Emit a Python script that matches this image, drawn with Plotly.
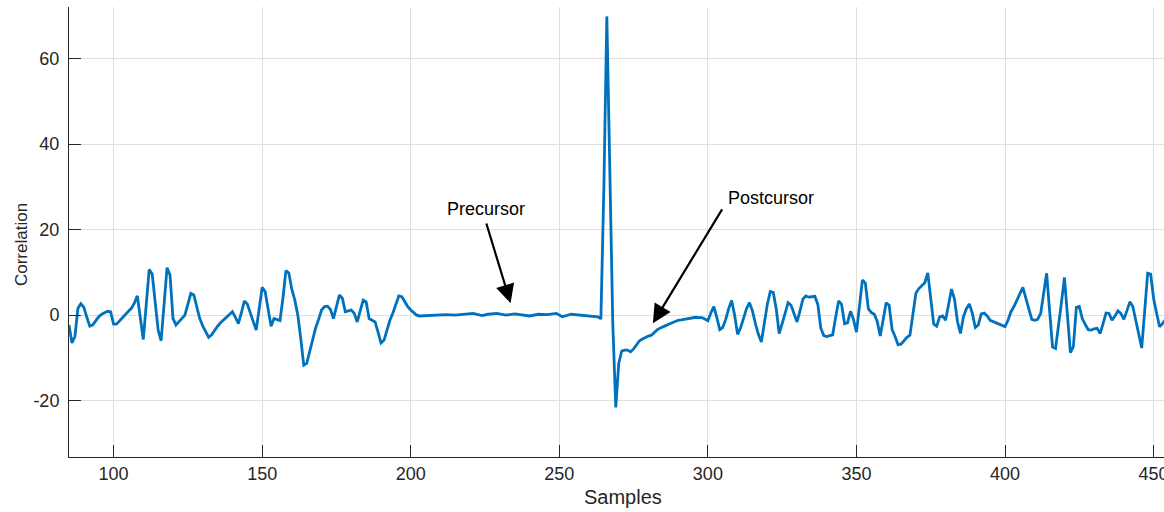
import plotly.graph_objects as go

# Cross-correlation output around the main peak (sample index vs. correlation)
samples_a = list(range(85, 204))
corr_a = [
    -2.3, -6.5, -5.0, 1.6, 2.7, 1.8, -0.5, -2.6, -2.3, -1.2,      # 85-94
    -0.4, 0.2, 0.6, 0.9, 0.8, -2.1, -2.1, -1.3, -0.5, 0.2,        # 95-104
    0.9, 1.6, 2.8, 4.5, -0.5, -5.7, 2.5, 10.7, 9.6, 3.0,          # 105-114
    -3.5, -6.0, 2.5, 11.1, 9.4, -0.8, -2.3, -1.5, -0.8, 0.0,      # 115-124
    2.5, 5.1, 4.7, 2.0, -0.8, -2.5, -4.0, -5.2, -4.6, -3.5,       # 125-134
    -2.6, -1.8, -1.2, -0.5, 0.2, 0.8, -0.5, -2.0, 0.5, 3.3,       # 135-144
    2.6, 0.5, -1.5, -3.5, 1.5, 6.5, 5.5, 1.5, -2.6, -0.8,         # 145-154
    -1.0, -1.3, 4.0, 10.4, 9.8, 6.0, 3.5, 0.0, -5.5, -11.7,       # 155-164
    -11.3, -8.5, -5.5, -3.0, -1.0, 1.2, 2.0, 2.1, 1.3, -0.8,      # 165-174
    2.0, 4.7, 3.9, 0.8, 1.0, 1.2, 0.4, -1.6, 1.0, 3.5,            # 175-184
    3.1, -0.8, -1.2, -1.6, -4.0, -6.5, -5.9, -3.5, -1.2, 0.5,     # 185-194
    2.3, 4.5, 4.3, 3.0, 2.0, 1.2, 0.5, 0.0, -0.2,                 # 195-203
]

# Quiet stretch before the main lobe
samples_b = [206, 209, 212, 215, 218, 221, 224, 226, 229, 232, 235, 238,
             240, 243, 246, 249, 251, 254, 257, 261, 263]
corr_b = [-0.1, 0.0, 0.1, 0.0, 0.2, 0.4, -0.1, 0.2, 0.4, 0.0, 0.3, 0.0,
          -0.2, 0.2, 0.1, 0.4, -0.4, 0.2, 0.0, -0.2, -0.4]

samples_c = list(range(264, 455))
corr_c = [
    -0.9, 30.0, 69.9, 34.0, -2.0, -21.6, -11.3, -8.4, -8.2, -8.2,  # 264-273
    -8.6, -7.9, -6.9, -6.0, -5.6, -5.2, -4.9, -4.7, -4.0, -3.4,    # 274-283
    -3.0, -2.6, -2.4, -2.1, -1.8, -1.5, -1.2, -1.1, -1.0, -0.8,    # 284-293
    -0.7, -0.6, -0.5, -0.6, -0.6, -0.9, -1.3, 0.5, 2.0, -0.5,      # 294-303
    -3.4, -2.9, -1.0, 1.5, 3.4, 0.0, -4.5, -3.0, -0.5, 1.5,        # 304-313
    2.9, 1.0, -2.0, -4.5, -6.3, -2.0, 2.5, 5.5, 5.3, 1.5,          # 314-323
    -4.3, -2.0, 0.5, 2.9, 2.3, 0.5, -1.6, 1.0, 3.8, 4.5,           # 324-333
    4.2, 4.3, 4.4, 2.5, -3.0, -4.8, -5.0, -4.8, -4.6, -0.5,        # 334-343
    3.3, 2.5, -2.0, -1.8, 0.9, -1.0, -4.0, 2.0, 8.2, 7.5,          # 344-353
    1.5, 0.6, 0.2, -1.5, -4.9, -1.0, 2.9, 2.3, -3.4, -5.0,         # 354-363
    -6.9, -6.8, -6.0, -5.2, -4.7, 0.0, 5.1, 6.2, 7.0, 7.6,         # 364-373
    9.9, 4.0, -2.1, -2.6, -0.4, -0.2, -1.2, 2.5, 6.1, 3.7,         # 374-383
    -1.5, -4.3, -0.4, 1.5, 2.6, 0.4, -2.9, -2.3, 0.3, 0.5,         # 384-393
    -0.2, -1.2, -1.5, -1.8, -2.1, -2.4, -2.7, -1.2, 0.8, 2.0,      # 394-403
    3.5, 5.0, 6.5, 4.0, 1.2, -1.0, -1.2, -1.0, 0.4, 5.0,           # 404-413
    9.8, 1.0, -7.5, -7.8, -3.0, 3.0, 8.8, 0.0, -8.8, -7.4,         # 414-423
    1.8, 2.0, -0.8, -2.2, -3.4, -3.5, -3.2, -3.1, -4.3, -2.0,      # 424-433
    0.5, 0.4, -1.2, -0.2, 1.0, 0.4, -1.0, 1.0, 3.1, 2.0,           # 434-443
    -1.5, -4.5, -7.7, 1.0, 9.8, 9.6, 3.9, 0.5, -2.7, -2.0,         # 444-453
    -1.0,                                                          # 454
]

samples = samples_a + samples_b + samples_c
corr = corr_a + corr_b + corr_c

x_ticks = [100, 150, 200, 250, 300, 350, 400, 450]
y_ticks = [-20, 0, 20, 40, 60]

# Arrow endpoints (data units): tail near the label, head on the curve
pre_tail, pre_head = (225.3, 21.8), (233.6, 2.8)
post_tail, post_head = (305.1, 25.1), (281.5, -1.9)

FONT = "Liberation Sans, Arial, Helvetica, sans-serif"
INK = "#262626"
GRID = "#dfdfdf"

fig = go.Figure()
fig.add_trace(go.Scatter(
    x=samples, y=corr, mode="lines",
    line=dict(color="#0072BD", width=2.8),
    hoverinfo="x+y", showlegend=False,
))

fig.update_layout(
    width=1164, height=512,
    margin=dict(l=69, r=0, t=7, b=55, autoexpand=False),
    paper_bgcolor="white", plot_bgcolor="white",
    font=dict(family=FONT, color=INK, size=18),
    xaxis=dict(
        range=[85.0, 453.5], tickvals=x_ticks, ticktext=[str(v) for v in x_ticks],
        showgrid=True, gridcolor=GRID, gridwidth=1, zeroline=False,
        showline=True, linecolor=INK, linewidth=1, mirror=False,
        ticks="inside", ticklen=12, tickcolor=INK, tickwidth=1,
        tickfont=dict(size=18, color=INK, family=FONT),
        ticklabeloverflow="allow", automargin=False,
    ),
    yaxis=dict(
        range=[-33.2, 72.1], tickvals=y_ticks, ticktext=[str(v) for v in y_ticks],
        showgrid=True, gridcolor=GRID, gridwidth=1, zeroline=False,
        showline=True, linecolor=INK, linewidth=1, mirror=False,
        ticks="inside", ticklen=12, tickcolor=INK, tickwidth=1,
        tickfont=dict(size=18, color=INK, family=FONT),
        ticklabelstandoff=5, automargin=False,
    ),
)

annotations = [
    # axis titles
    dict(text="Samples", xref="paper", yref="paper", x=0.506, y=0,
         xanchor="center", yanchor="middle", yshift=-40, showarrow=False,
         font=dict(size=20, color=INK, family=FONT)),
    dict(text="Correlation", xref="paper", yref="paper", x=0, y=0.471,
         xanchor="center", yanchor="middle", xshift=-48, textangle=-90,
         showarrow=False, font=dict(size=17, color=INK, family=FONT)),
    # arrows
    dict(x=pre_head[0], y=pre_head[1], ax=pre_tail[0], ay=pre_tail[1],
         xref="x", yref="y", axref="x", ayref="y", text="", showarrow=True,
         arrowhead=2, arrowsize=1.7, arrowwidth=2.2, arrowcolor="black"),
    dict(x=post_head[0], y=post_head[1], ax=post_tail[0], ay=post_tail[1],
         xref="x", yref="y", axref="x", ayref="y", text="", showarrow=True,
         arrowhead=2, arrowsize=1.7, arrowwidth=2.2, arrowcolor="black"),
    # arrow labels
    dict(text="Precursor", x=pre_tail[0], y=pre_tail[1], xref="x", yref="y",
         xanchor="center", yanchor="bottom", yshift=1, showarrow=False,
         font=dict(size=18, color="black", family=FONT)),
    dict(text="Postcursor", x=post_tail[0], y=post_tail[1], xref="x", yref="y",
         xanchor="left", yanchor="bottom", xshift=3, yshift=-2, showarrow=False,
         font=dict(size=18, color="black", family=FONT)),
]
fig.update_layout(annotations=annotations)

fig.write_html("out.html")
